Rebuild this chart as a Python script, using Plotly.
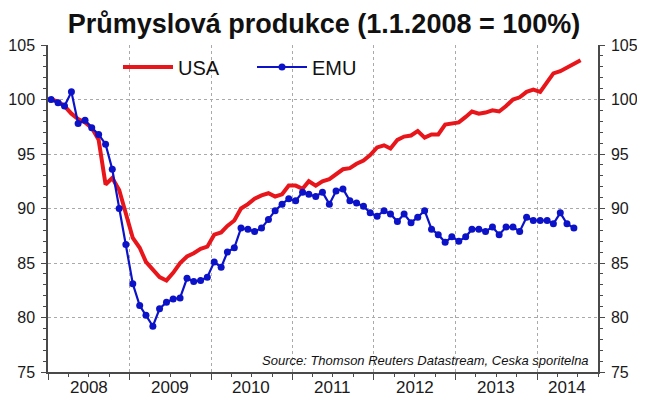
import plotly.graph_objects as go
import pandas as pd

# ---- data (monthly index, 1.1.2008 = 100) ----
start_month = "2008-01-01"
usa = [100.0, 99.8, 99.4, 98.7, 98.2, 97.9, 97.4, 96.3, 92.2, 92.8, 91.7, 89.6,
       87.3, 86.4, 85.1, 84.4, 83.7, 83.4, 84.1, 85.0, 85.6, 85.9, 86.3, 86.5,
       87.6, 87.8, 88.4, 88.9, 90.0, 90.4, 90.9, 91.2, 91.4, 91.1, 91.3, 92.1,
       92.1, 91.8, 92.5, 92.1, 92.5, 92.7, 93.2, 93.6, 93.7, 94.1, 94.4, 94.9,
       95.6, 95.8, 95.5, 96.3, 96.6, 96.7, 97.1, 96.5, 96.8, 96.8, 97.7, 97.8,
       97.9, 98.4, 98.9, 98.7, 98.8, 99.0, 98.9, 99.4, 100.0, 100.2, 100.7, 100.9,
       100.7, 101.6, 102.4, 102.6, 102.9, 103.2, 103.6]
emu = [100.0, 99.7, 99.4, 100.7, 97.8, 98.1, 97.4, 96.8, 95.9, 93.6, 90.0, 86.7,
       83.1, 81.1, 80.2, 79.2, 80.8, 81.4, 81.7, 81.8, 83.6, 83.3, 83.4, 83.7,
       85.1, 84.6, 86.0, 86.4, 88.2, 88.1, 87.9, 88.2, 89.0, 89.8, 90.4, 90.9,
       90.7, 91.5, 91.3, 91.1, 91.5, 90.4, 91.6, 91.8, 90.7, 90.5, 90.2, 89.6,
       89.3, 89.8, 89.5, 88.8, 89.5, 88.7, 89.2, 89.8, 88.1, 87.6, 86.9, 87.4,
       87.0, 87.4, 88.1, 88.1, 87.9, 88.3, 87.6, 88.3, 88.3, 87.9, 89.2, 88.9,
       88.9, 88.9, 88.6, 89.6, 88.6, 88.2]
year_labels = ["2008", "2009", "2010", "2011", "2012", "2013", "2014"]
year_label_pos = ["2008-07-01", "2009-07-01", "2010-07-01", "2011-07-01",
                  "2012-07-01", "2013-07-01", "2014-05-16"]
year_ticks = ["2008-01-01", "2009-01-01", "2010-01-01", "2011-01-01",
              "2012-01-01", "2013-01-01", "2014-01-01"]
x_range = ["2008-01-01", "2014-10-01"]
y_range = [75, 105]
title_text = "Průmyslová produkce (1.1.2008 = 100%)"
source_text = "Source: Thomson Reuters Datastream, Ceska sporitelna"

months = pd.date_range(start_month, periods=len(usa), freq="MS") + pd.Timedelta(days=14)

RED = "#e8161b"
BLUE = "#0c12c8"
FONT = "Liberation Sans, Arial, sans-serif"
AXC = "#4a4a4a"

# page body has an 8px default margin; size the figure to fit the window
W, H = 637, 388
PL, PR, PT, PB = 40, 590, 37, 364   # plot area in figure pixels
PW, PH = PR - PL, PB - PT

fig = go.Figure()
fig.add_trace(go.Scatter(x=months[:len(usa)], y=usa, mode="lines", name="USA",
                         line=dict(color=RED, width=4), yaxis="y"))
fig.add_trace(go.Scatter(x=months[:len(emu)], y=emu, mode="lines+markers", name="EMU",
                         line=dict(color=BLUE, width=2.2), marker=dict(size=7, color=BLUE),
                         yaxis="y2"))

yax = dict(range=y_range, tick0=75, dtick=5, ticks="outside", ticklen=5, tickcolor=AXC,
           showline=True, linecolor=AXC, linewidth=1.5, zeroline=False, automargin=False,
           tickfont=dict(family=FONT, size=16, color="#1a1a1a"), ticklabelstandoff=3,
           minor=dict(dtick=1, tick0=75, ticks="outside", ticklen=3, tickcolor=AXC, showgrid=False))

fig.update_layout(
    width=W, height=H,
    margin=dict(l=PL, r=W - PR, t=PT, b=H - PB, autoexpand=False),
    paper_bgcolor="white", plot_bgcolor="white",
    font=dict(family=FONT, color="#111"),
    title=dict(text="<b>" + title_text + "</b>", x=316 / W, xanchor="center",
               y=1 - 16 / H, yanchor="middle", yref="container", automargin=False,
               font=dict(family=FONT, size=27, color="#111")),
    xaxis=dict(type="date", range=x_range, tickmode="array", tickvals=year_ticks,
               showticklabels=False, ticks="outside", ticklen=6, tickcolor=AXC,
               showgrid=True, gridcolor="#aaaaaa", griddash="dot", gridwidth=1,
               showline=True, linecolor=AXC, linewidth=1.5, zeroline=False, automargin=False,
               minor=dict(tickmode="linear", tick0="2008-01-01", dtick="M3", ticks="outside",
                          ticklen=3, tickcolor=AXC, showgrid=False)),
    yaxis=dict(**yax, side="left", showgrid=True, gridcolor="#aaaaaa", griddash="dot", gridwidth=1),
    yaxis2=dict(**yax, side="right", overlaying="y", anchor="x", showgrid=False),
    legend=dict(orientation="h", x=(110 - PL) / PW, xanchor="left", y=(PB - 59) / PH, yanchor="middle",
                bgcolor="rgba(0,0,0,0)", font=dict(family=FONT, size=20, color="#111"),
                itemwidth=50, entrywidth=69, traceorder="normal"),
    showlegend=True,
)

for lab, pos in zip(year_labels, year_label_pos):
    fig.add_annotation(x=pos, y=-15 / PH, xref="x", yref="paper", text=lab,
                       showarrow=False, yanchor="middle", xanchor="center",
                       font=dict(family=FONT, size=17, color="#1a1a1a"))

fig.add_annotation(x=(583 - PL) / PW, y=12 / PH, xref="paper", yref="paper",
                   text="<i>" + source_text + "</i>", showarrow=False,
                   xanchor="right", yanchor="middle",
                   font=dict(family=FONT, size=13, color="#111"))

fig.write_html("out.html")
